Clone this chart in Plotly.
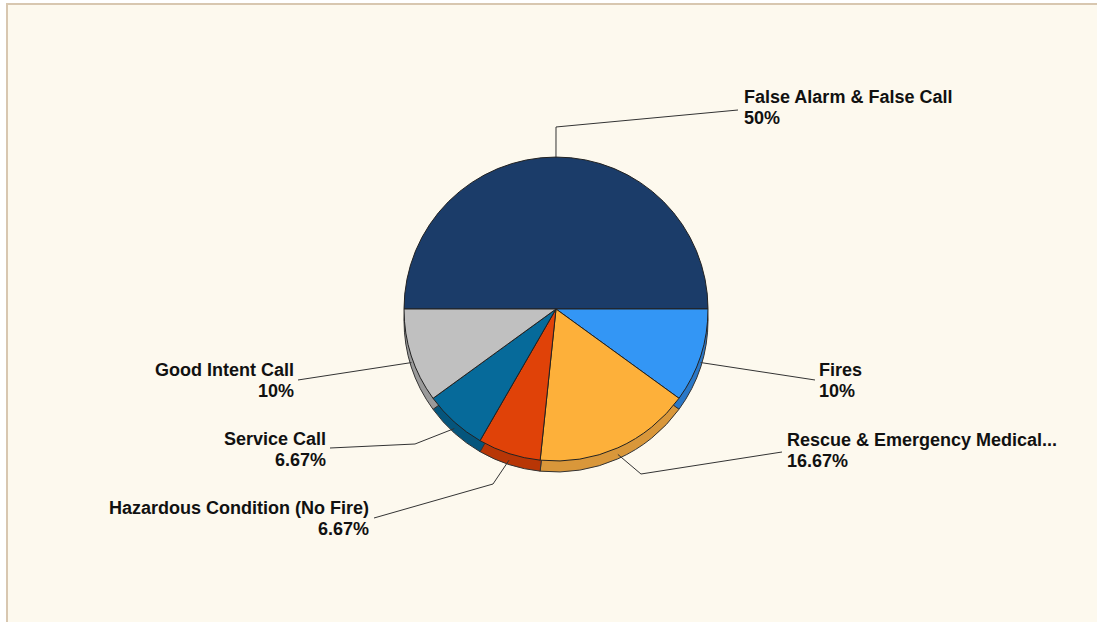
import math
import plotly.graph_objects as go

W, H = 1097, 622

categories = ["False Alarm & False Call", "Fires", "Rescue & Emergency Medical...",
              "Hazardous Condition (No Fire)", "Service Call", "Good Intent Call"]
percents = [50, 10, 16.67, 6.67, 6.67, 10]
colors = ["#1B3C69", "#3396F5", "#FDB03A", "#E04208", "#066A9A", "#C0C0C0"]
side_colors = ["#132C4E", "#2A78C8", "#D9973A", "#B83606", "#05557C", "#9A9A9A"]

# label placement (pixel coords): text x, first-line centre y, side, leader elbows
label_pos = [
    (742, 97,  "left",  [(556, 127), (738, 110)]),
    (817, 370, "left",  [(815, 380)]),
    (785, 440, "left",  [(641, 474), (782, 452)]),
    (371, 508, "right", [(493, 484), (374, 518)]),
    (328, 439, "right", [(415, 444), (330, 448)]),
    (296, 370, "right", [(298, 380)]),
]
line_gap = 21

cx, cy, r, depth = 556, 309, 152, 11


def px(x):
    return x / W


def py(y):
    return 1 - y / H


fig = go.Figure()

# "side" of the 3D pie
fig.add_trace(go.Pie(
    labels=categories, values=percents, sort=False, direction="clockwise", rotation=-90,
    marker=dict(colors=side_colors, line=dict(color="#333333", width=1)),
    textinfo="none", hoverinfo="skip", showlegend=False,
    domain=dict(x=[px(cx - r), px(cx + r)], y=[py(cy + r + depth), py(cy - r + depth)]),
))
# top face
fig.add_trace(go.Pie(
    labels=categories, values=percents, sort=False, direction="clockwise", rotation=-90,
    marker=dict(colors=colors, line=dict(color="#222222", width=1)),
    textinfo="none", showlegend=False,
    domain=dict(x=[px(cx - r), px(cx + r)], y=[py(cy + r), py(cy - r)]),
))

total = sum(percents)
cum = 0
shapes = [dict(type="rect", xref="paper", yref="paper", x0=px(7), x1=1.01, y0=-0.01, y1=py(4),
               line=dict(color="#D8C7B0", width=2), fillcolor="#FDF9EE", layer="below")]
annotations = []
font = dict(family="Liberation Sans, Arial, sans-serif", size=18, color="#111111")
for cat, v, (tx, ty, side, pts) in zip(categories, percents, label_pos):
    mid = 180 - 360 * (cum + v / 2) / total
    cum += v
    a = math.radians(mid)
    ax = cx + r * math.cos(a)
    ay = cy - r * math.sin(a)
    if math.sin(a) < 0:
        ay += depth * 0.6
    path_pts = [(ax, ay)] + pts
    path = "M " + " L ".join(f"{px(x):.5f},{py(y):.5f}" for x, y in path_pts)
    shapes.append(dict(type="path", xref="paper", yref="paper", path=path,
                       line=dict(color="#333333", width=1), layer="above"))
    for i, line in enumerate([cat, f"{v:g}%"]):
        annotations.append(dict(
            x=px(tx), y=py(ty + i * line_gap), xref="paper", yref="paper", showarrow=False,
            xanchor="left" if side == "left" else "right", yanchor="middle",
            align=side, text=f"<b>{line}</b>", font=font,
        ))

fig.update_layout(
    width=W, height=H, margin=dict(l=0, r=0, t=0, b=0),
    paper_bgcolor="#FFFFFF", plot_bgcolor="#FDF9EE",
    shapes=shapes, annotations=annotations,
)

fig.write_html("out.html", config={"displayModeBar": False},
               post_script="document.body.style.margin='0';")
